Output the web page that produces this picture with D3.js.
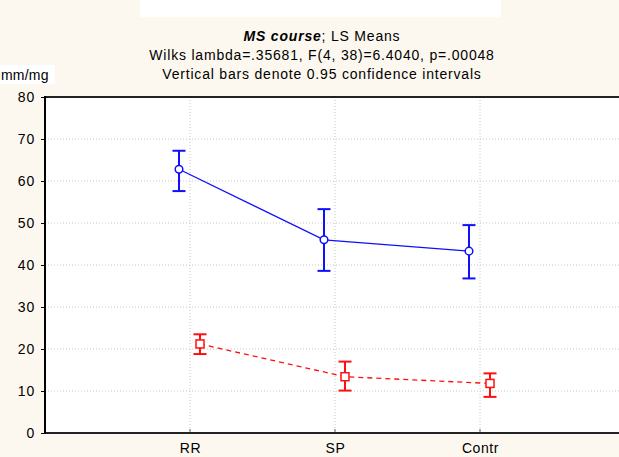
<!DOCTYPE html>
<html>
<head>
<meta charset="utf-8">
<script src="https://cdn.jsdelivr.net/npm/d3@7"></script>
<style>
  html, body { margin: 0; padding: 0; background: #fdf8ef; }
  svg { display: block; }
  text { font-family: "Liberation Sans", Arial, sans-serif; fill: #000; }
</style>
</head>
<body>
<svg id="chart" width="619" height="457"></svg>
<script>
// Group levels on the x axis
const categories = ["RR", "SP", "Contr"];
// First dependent variable (blue, circles): LS means and 95% CI bounds
const seriesA = [62.8, 46.0, 43.3];
const seriesALow = [57.6, 38.6, 36.8];
const seriesAHigh = [67.2, 53.3, 49.5];
// Second dependent variable (red, squares): LS means and 95% CI bounds
const seriesB = [21.2, 13.4, 11.8];
const seriesBLow = [18.8, 10.1, 8.6];
const seriesBHigh = [23.5, 17.0, 14.2];
// Y axis ticks
const yTicks = [0, 10, 20, 30, 40, 50, 60, 70, 80];

const svg = d3.select("#chart");
const plotLeft = 45, plotTop = 97, plotBottom = 433;
// the plot frame continues past the right edge of the page
const plotRight = 625;
const FONT = "Liberation Sans, Arial, sans-serif";

// white header strips
svg.append("rect").attr("x", 140).attr("y", 0).attr("width", 361).attr("height", 17).attr("fill", "#fff");
svg.append("rect").attr("x", 0).attr("y", 65).attr("width", 55).attr("height", 19).attr("fill", "#fff");

// plot background
svg.append("rect").attr("x", plotLeft).attr("y", plotTop)
  .attr("width", plotRight - plotLeft).attr("height", plotBottom - plotTop).attr("fill", "#fff");

const y = d3.scaleLinear().domain([0, 80]).range([plotBottom, plotTop]);
const x = d3.scalePoint().domain(["", ...categories, " "]).range([plotLeft, plotRight]);

// horizontal dotted gridlines
svg.append("g").selectAll("line").data(yTicks.filter(t => t > 0 && t < 80)).join("line")
  .attr("x1", plotLeft).attr("x2", plotRight)
  .attr("y1", d => y(d)).attr("y2", d => y(d))
  .attr("stroke", "#c8c8c8").attr("stroke-width", 1).attr("stroke-dasharray", "1,2");
// vertical dotted gridlines at each category
svg.append("g").selectAll("line").data(categories).join("line")
  .attr("x1", d => x(d)).attr("x2", d => x(d))
  .attr("y1", plotTop).attr("y2", plotBottom)
  .attr("stroke", "#c8c8c8").attr("stroke-width", 1).attr("stroke-dasharray", "1,2");

// y axis
const yAxis = d3.axisLeft(y).tickValues(yTicks).tickSize(4).tickPadding(6).tickFormat(d3.format("d"));
const gy = svg.append("g").attr("transform", `translate(${plotLeft},0)`).call(yAxis);
gy.select(".domain").remove();
gy.selectAll("line").attr("stroke", "#000");
gy.selectAll("text").attr("font-size", 14).attr("letter-spacing", 0.8)
  .attr("font-family", FONT).attr("fill", "#000");

// x axis labels
const xAxis = d3.axisBottom(x).tickValues(categories).tickSize(0).tickPadding(10);
const gx = svg.append("g").attr("transform", `translate(0,${plotBottom})`).call(xAxis);
gx.select(".domain").remove();
gx.selectAll("text").attr("font-size", 14).attr("letter-spacing", 0.6)
  .attr("font-family", FONT).attr("fill", "#000");
// short inner ticks at categories
svg.append("g").selectAll("line").data(categories).join("line")
  .attr("x1", d => x(d)).attr("x2", d => x(d))
  .attr("y1", plotBottom).attr("y2", plotBottom - 4)
  .attr("stroke", "#666").attr("stroke-width", 1);

// frame
svg.append("line").attr("x1", plotLeft).attr("x2", plotRight).attr("y1", plotTop).attr("y2", plotTop).attr("stroke", "#222").attr("stroke-width", 2);
svg.append("line").attr("x1", plotLeft).attr("x2", plotRight).attr("y1", plotBottom).attr("y2", plotBottom).attr("stroke", "#222").attr("stroke-width", 2);
svg.append("line").attr("x1", plotLeft).attr("x2", plotLeft).attr("y1", plotTop - 1).attr("y2", plotBottom + 1).attr("stroke", "#000").attr("stroke-width", 2);

function drawSeries(means, lows, highs, color, offset, dashed, shape) {
  const g = svg.append("g");
  const pts = categories.map((c, i) => ({ c, m: means[i], lo: lows[i], hi: highs[i], px: x(c) + offset }));
  const line = d3.line().x(d => d.px).y(d => y(d.m));
  g.append("path").datum(pts).attr("d", line).attr("fill", "none")
    .attr("stroke", color).attr("stroke-width", 1.3)
    .attr("stroke-dasharray", dashed ? "5,4" : null);
  // confidence interval whiskers
  const cap = 6.5;
  pts.forEach(d => {
    g.append("line").attr("x1", d.px).attr("x2", d.px).attr("y1", y(d.lo)).attr("y2", y(d.hi))
      .attr("stroke", color).attr("stroke-width", 2);
    [d.lo, d.hi].forEach(v => g.append("line")
      .attr("x1", d.px - cap).attr("x2", d.px + cap).attr("y1", y(v)).attr("y2", y(v))
      .attr("stroke", color).attr("stroke-width", 2));
  });
  // markers
  if (shape === "circle") {
    g.selectAll("circle").data(pts).join("circle")
      .attr("cx", d => d.px).attr("cy", d => y(d.m)).attr("r", 3.8)
      .attr("fill", "#fff").attr("stroke", color).attr("stroke-width", 1.5);
  } else {
    g.selectAll("rect.m").data(pts).join("rect").attr("class", "m")
      .attr("x", d => d.px - 4).attr("y", d => y(d.m) - 4).attr("width", 8).attr("height", 8)
      .attr("fill", "#fff").attr("stroke", color).attr("stroke-width", 1.5);
  }
}

drawSeries(seriesA, seriesALow, seriesAHigh, "#1010ff", -11, false, "circle");
drawSeries(seriesB, seriesBLow, seriesBHigh, "#ff1010", 10, true, "square");

// titles
const title = svg.append("text").attr("x", 322).attr("y", 41).attr("text-anchor", "middle")
  .attr("font-size", 14).attr("letter-spacing", 0.8);
title.append("tspan").attr("font-weight", "bold").attr("font-style", "italic").text("MS course");
title.append("tspan").text("; LS Means");
svg.append("text").attr("x", 322).attr("y", 60).attr("text-anchor", "middle")
  .attr("font-size", 14).attr("letter-spacing", 0.8)
  .text("Wilks lambda=.35681, F(4, 38)=6.4040, p=.00048");
svg.append("text").attr("x", 322).attr("y", 79).attr("text-anchor", "middle")
  .attr("font-size", 14).attr("letter-spacing", 0.8)
  .text("Vertical bars denote 0.95 confidence intervals");
svg.append("text").attr("x", 1).attr("y", 80).attr("font-size", 14).attr("letter-spacing", 0.2).text("mm/mg");
</script>
</body>
</html>
